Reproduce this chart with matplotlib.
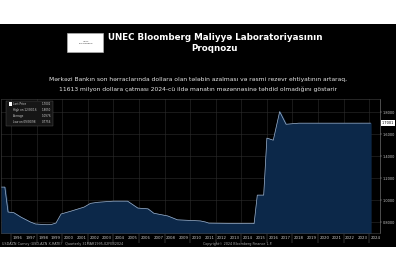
import matplotlib.pyplot as plt
from matplotlib.patches import Rectangle
import numpy as np

# USD/AZN, quarterly (decimal year, rate)
dates = [1995.25, 1995.5, 1995.75, 1996.2, 1996.75, 1997.5, 1997.9, 1998.75, 1999.1,
         1999.5, 1999.9, 2000.7, 2001.7, 2002.2, 2002.8, 2004.0, 2005.1, 2005.9,
         2006.7, 2007.15, 2008.25, 2009.0, 2010.8, 2011.2, 2011.45, 2015.0, 2015.25,
         2015.75, 2016.0, 2016.5, 2017.0, 2017.5, 2018.5, 2020.0, 2022.0, 2024.1]
rates = [1.118, 1.118, 0.891, 0.885, 0.845, 0.80, 0.782, 0.7756, 0.776,
         0.791, 0.873, 0.90, 0.936, 0.97, 0.98, 0.99, 0.99, 0.927,
         0.92, 0.88, 0.855, 0.82, 0.81, 0.80, 0.79, 0.785, 1.045,
         1.045, 1.564, 1.545, 1.805, 1.69, 1.70, 1.70, 1.70, 1.7001]

years = list(range(1996, 2025))
yticks = [0.8, 1.0, 1.2, 1.4, 1.6, 1.8]

legend_rows = [("Last Price", "1.7001"), ("High on 12/30/16", "1.8050"),
               ("Average", "1.0976"), ("Low on 09/30/98", "0.7756")]

W, H = 396, 270
fig = plt.figure(figsize=(W / 100, H / 100), dpi=100)
fig.patch.set_facecolor("white")

# black panel
fig.add_artist(Rectangle((0, 1 - 247 / H), 1, (247 - 24) / H, transform=fig.transFigure,
                         facecolor="black", edgecolor="none", zorder=0))

# logo
fig.add_artist(Rectangle((67 / W, 1 - 52 / H), 36 / W, 19 / H, transform=fig.transFigure,
                         facecolor="white", edgecolor="#bbbbbb", lw=0.4, zorder=1))
fig.text(86 / W, 1 - 42.5 / H, "UNEC\nBLOOMBERG", fontsize=1.6, color="#444444",
         ha="center", va="center", linespacing=1.0)

fig.text(215 / W, 1 - 37 / H, "UNEC Bloomberg Maliyyə Laboratoriyasının", color="white",
         fontsize=6.3, fontweight="bold", ha="center", va="center")
fig.text(215 / W, 1 - 48.5 / H, "Proqnozu", color="white",
         fontsize=6.3, fontweight="bold", ha="center", va="center")

fig.text(198 / W, 1 - 80 / H,
         "Mərkəzi Bankın son hərraclarında dollara olan tələbin azalması və rəsmi rezevr ehtiyatının artaraq,",
         color="#e8e8e8", fontsize=4.3, ha="center", va="center")
fig.text(198 / W, 1 - 89.5 / H,
         "11613 milyon dollara çatması 2024-cü ildə manatın məzənnəsinə təhdid olmadığını göstərir",
         color="#e8e8e8", fontsize=4.3, ha="center", va="center")

ax = fig.add_axes([1 / W, 1 - 233 / H, 379 / W, 134 / H])
ax.set_facecolor("black")
ax.fill_between(dates, rates, 0, color="#0c2849", zorder=2)
ax.plot(dates, rates, color="#9fb3cc", lw=0.5, zorder=3)

ax.set_xlim(1995.2, 2024.85)
ax.set_ylim(0.70, 1.92)

ax.set_xticks(np.arange(1996, 2025, 2))
ax.set_xticks([y + 0.5 for y in years], minor=True)
ax.set_xticklabels([])
ax.set_xticklabels([str(y) for y in years], minor=True)
ax.tick_params(axis="x", which="major", length=7, width=0.3, color="#777777", direction="out")
ax.tick_params(axis="x", which="minor", length=0, labelsize=2.8, labelcolor="#cccccc", pad=2.5)

ax.yaxis.tick_right()
ax.set_yticks(yticks)
ax.set_yticklabels(["%.4f" % v for v in yticks])
ax.tick_params(axis="y", length=1.5, width=0.3, color="#aaaaaa", labelsize=2.5,
               labelcolor="#cccccc", pad=0.6)
ax.grid(True, which="major", color="#2e2e2e", lw=0.4, zorder=1)

for side in ["top", "left", "bottom"]:
    ax.spines[side].set_color("#444444")
    ax.spines[side].set_linewidth(0.4)
ax.spines["right"].set_color("#888888")
ax.spines["right"].set_linewidth(0.4)

# last price tag
ax.annotate("1.7001", xy=(1.0, rates[-1]), xycoords=("axes fraction", "data"),
            xytext=(1.5, 0), textcoords="offset points", fontsize=2.5, color="black",
            va="center", ha="left", annotation_clip=False,
            bbox=dict(boxstyle="square,pad=0.2", fc="white", ec="none"))

# legend box
ax.add_patch(Rectangle((0.012, 0.80), 0.125, 0.185, transform=ax.transAxes,
                       facecolor="#161616", edgecolor="#555555", lw=0.3, zorder=5))
for i, (name, val) in enumerate(legend_rows):
    yy = 0.962 - i * 0.045
    if i == 0:
        ax.add_patch(Rectangle((0.02, yy - 0.014), 0.008, 0.028, transform=ax.transAxes,
                               facecolor="white", edgecolor="none", zorder=6))
    ax.text(0.032, yy, name, transform=ax.transAxes, fontsize=2.0, color="#cccccc",
            va="center", zorder=6)
    ax.text(0.133, yy, val, transform=ax.transAxes, fontsize=2.0, color="#cccccc",
            va="center", ha="right", zorder=6)

fig.text(2 / W, 1 - 244.5 / H,
         "USDAZN Curncy (USD-AZN X-RATE)   Quarterly 31MAR1995-02FEB2024",
         fontsize=2.4, color="#aaaaaa", ha="left", va="center")
fig.text(203 / W, 1 - 244.5 / H, "Copyright© 2024 Bloomberg Finance L.P.",
         fontsize=2.4, color="#aaaaaa", ha="left", va="center")

fig.savefig("out.png", dpi=100, facecolor=fig.get_facecolor())
